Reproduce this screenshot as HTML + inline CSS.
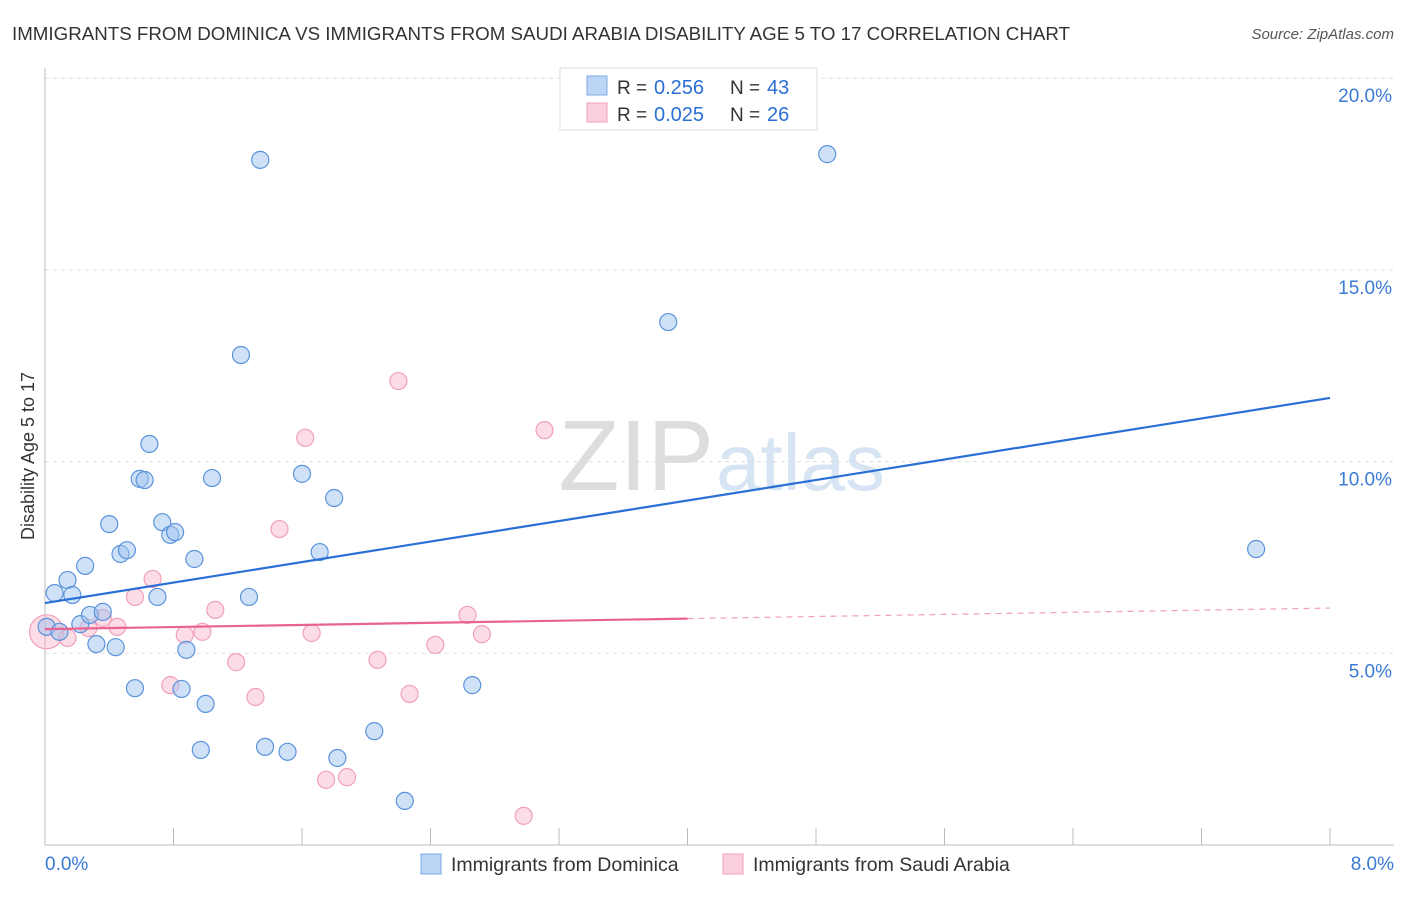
<!DOCTYPE html>
<html><head><meta charset="utf-8"><style>
body{margin:0;background:#fff;font-family:"Liberation Sans",sans-serif;}
svg text{font-family:"Liberation Sans",sans-serif;}
</style></head><body>
<svg id="c" width="1406" height="892"></svg>
<script>
const blueX=[0.01,0.06,0.09,0.14,0.17,0.22,0.25,0.28,0.32,0.36,0.40,0.44,0.47,0.51,0.56,0.59,0.62,0.65,0.70,0.73,0.78,0.81,0.85,0.88,0.93,0.97,1.00,1.04,1.22,1.27,1.34,1.37,1.51,1.60,1.71,1.80,1.82,2.05,2.24,2.66,3.88,4.87,7.54];
const blueY=[5.69,6.57,5.56,6.91,6.52,5.76,7.28,6.00,5.24,6.08,8.37,5.16,7.59,7.69,4.09,9.55,9.52,10.46,6.47,8.42,8.09,8.16,4.07,5.09,7.46,2.48,3.68,9.57,12.78,6.47,17.87,2.56,2.43,9.68,7.64,9.05,2.27,2.97,1.15,4.17,13.64,18.02,7.72];
const pinkX=[0.01,0.14,0.27,0.36,0.45,0.56,0.67,0.78,0.87,0.98,1.06,1.19,1.31,1.46,1.62,1.66,1.75,1.88,2.07,2.20,2.27,2.43,2.63,2.72,2.98,3.11];
const pinkY=[5.56,5.40,5.66,5.92,5.69,6.47,6.94,4.17,5.48,5.56,6.13,4.77,3.86,8.24,10.62,5.53,1.70,1.77,4.83,12.10,3.94,5.22,6.00,5.50,0.76,10.82];
const blueTrend=[6.31,11.66];
const pinkTrend=[5.63,6.18];
const yTicks=[5,10,15,20];
const xTickLabels=["0.0%","8.0%"];

const svg=document.getElementById('c');const NS='http://www.w3.org/2000/svg';
const X=v=>45+v*1285/8, Y=v=>845-v*38.34;
function el(t,a,p){const e=document.createElementNS(NS,t);for(const k in a)e.setAttribute(k,a[k]);(p||svg).appendChild(e);return e;}
function tx(x,y,s,a,p){const e=el('text',Object.assign({x:x,y:y},a),p);e.textContent=s;return e;}
let t;
t=tx(12,40,"IMMIGRANTS FROM DOMINICA VS IMMIGRANTS FROM SAUDI ARABIA DISABILITY AGE 5 TO 17 CORRELATION CHART",{'font-size':18,fill:'#333',textLength:1058,lengthAdjust:'spacingAndGlyphs'});

t=tx(1394,39,"Source: ZipAtlas.com",{'font-size':15,fill:'#555','text-anchor':'end','font-style':'italic'});

t=tx(714,490,"ZIP",{'font-size':100,fill:'#ddd','text-anchor':'end','font-family':'Liberation Serif'});

t=tx(716,490,"atlas",{'font-size':80,fill:'#d6e4f3'});

yTicks.forEach(v=>{
 const g=el('line',{x1:45,x2:1394,y1:Y(v),y2:Y(v),stroke:'#ddd','stroke-dasharray':'4,4'});
 
 const l=tx(1392,Y(v)+24,v.toFixed(1)+"%",{'font-size':19,fill:'#3a7bd5','text-anchor':'end'});
 
});
t=el('line',{x1:45,x2:45,y1:68,y2:845,stroke:'#bbb'});
t=el('line',{x1:45,x2:1394,y1:845,y2:845,stroke:'#bbb'});
for(let i=0;i<=10;i++){const x=X(i*0.8);t=el('line',{x1:x,x2:x,y1:828,y2:845,stroke:'#bbb'});}
t=tx(45,870,xTickLabels[0],{'font-size':19,fill:'#3a7bd5'});
t=tx(1394,870,xTickLabels[1],{'font-size':19,fill:'#3a7bd5','text-anchor':'end'});
t=tx(34,456,"Disability Age 5 to 17",{'font-size':18,fill:'#333','text-anchor':'middle',transform:'rotate(-90 34 456)'});

pinkX.forEach((x,i)=>{const p=el('circle',{cx:X(x),cy:Y(pinkY[i]),r:i==0?17:8.5,fill:'rgba(248,180,200,0.45)',stroke:'#f0a0b8','stroke-width':1.2});
 });
blueX.forEach((x,i)=>{const p=el('circle',{cx:X(x),cy:Y(blueY[i]),r:8.5,fill:'rgba(160,196,240,0.5)',stroke:'#5b93dc','stroke-width':1.2});
 });
t=el('line',{x1:X(0),y1:Y(blueTrend[0]),x2:X(8),y2:Y(blueTrend[1]),stroke:'#2a6fd6','stroke-width':2.2});

const pm=pinkTrend[0]+(pinkTrend[1]-pinkTrend[0])*4/8;
t=el('line',{x1:X(0),y1:Y(pinkTrend[0]),x2:X(4),y2:Y(pm),stroke:'#e8638f','stroke-width':2.2});

t=el('line',{x1:X(4),y1:Y(pm),x2:X(8),y2:Y(pinkTrend[1]),stroke:'#f0a0b8','stroke-width':1.2,'stroke-dasharray':'6,5'});

const lg=el('g',{});
el('rect',{x:560,y:68,width:257,height:62,fill:'#fff',stroke:'#ddd'},lg);
el('rect',{x:587,y:76,width:20,height:19,fill:'#bcd5f5',stroke:'#7aaae6'},lg);
el('rect',{x:587,y:103,width:20,height:19,fill:'#fbd0dc',stroke:'#f0a0b8'},lg);
[[94,"0.256","43"],[121,"0.025","26"]].forEach(r=>{
 tx(617,r[0],"R = ",{'font-size':19,fill:'#333'},lg);
 tx(654,r[0],r[1],{'font-size':20,fill:'#2a6fd6'},lg);
 tx(730,r[0],"N = ",{'font-size':19,fill:'#333'},lg);
 tx(767,r[0],r[2],{'font-size':20,fill:'#2a6fd6'},lg);
});
const bl=el('g',{});
el('rect',{x:421,y:854,width:20,height:20,fill:'#bcd5f5',stroke:'#7aaae6'},bl);
tx(451,871,"Immigrants from Dominica",{'font-size':19.5,fill:'#333'},bl);
el('rect',{x:723,y:854,width:20,height:20,fill:'#fbd0dc',stroke:'#f0a0b8'},bl);
tx(753,871,"Immigrants from Saudi Arabia",{'font-size':19.5,fill:'#333'},bl);
</script>
</body></html>
